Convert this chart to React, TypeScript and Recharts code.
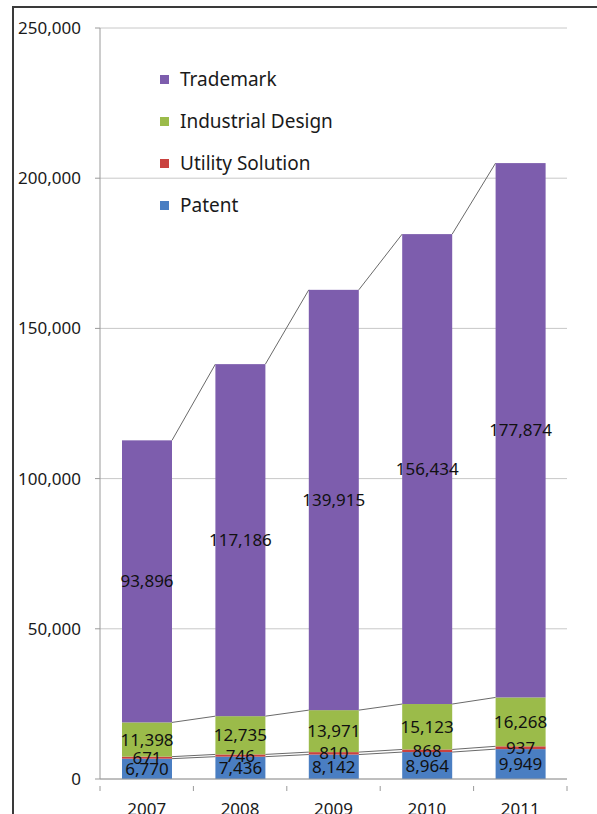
import React from 'react';
import { BarChart, Bar, XAxis, YAxis, CartesianGrid, LabelList } from 'recharts';

const years = ['2007', '2008', '2009', '2010', '2011'];
const patent = [6770, 7436, 8142, 8964, 9949];
const utility = [671, 746, 810, 868, 937];
const industrial = [11398, 12735, 13971, 15123, 16268];
const trademark = [93896, 117186, 139915, 156434, 177874];
const yTicks = [0, 50000, 100000, 150000, 200000, 250000];

const seriesDefs = [
  { key: 'patent', name: 'Patent', color: '#4A7EC2', values: patent },
  { key: 'utility', name: 'Utility Solution', color: '#C9423F', values: utility },
  { key: 'industrial', name: 'Industrial Design', color: '#9BBB4A', values: industrial },
  { key: 'trademark', name: 'Trademark', color: '#7D5DAD', values: trademark },
];

const data = years.map((y, i) => {
  const row: any = { year: y };
  seriesDefs.forEach((s) => (row[s.key] = s.values[i]));
  return row;
});

// cumulative tops of each series in each bar
const tops: Record<string, number[]> = {};
{
  const acc = years.map(() => 0);
  seriesDefs.forEach((s) => {
    tops[s.key] = s.values.map((v, i) => (acc[i] += v));
  });
}

const W = 597;
const H = 814;
const MARGIN = { top: 28, right: 30, left: 10, bottom: 5 };
const YAXIS_W = 90;
const PLOT_W = W - MARGIN.left - MARGIN.right - YAXIS_W;
const BAND = PLOT_W / years.length;
const FONT = '"Noto Sans", "Open Sans", sans-serif';

const fmt = (v: any) => Number(v).toLocaleString('en-US');

const makeShape = (key: string) => (props: any) => {
  const { x, y, width, height, fill, index } = props;
  const vals = seriesDefs.find((s) => s.key === key)!.values;
  const k = height / vals[index];
  const t = tops[key];
  const els: any[] = [
    <rect key="r" x={x} y={y} width={width} height={height} fill={fill} />,
  ];
  if (index < years.length - 1) {
    const yNext = y + (t[index] - t[index + 1]) * k;
    els.push(
      <line key="l" x1={x + width} y1={y} x2={x + BAND} y2={yNext} stroke="#6a6a6a" strokeWidth={1} />
    );
  }
  return <g>{els}</g>;
};

const XTick = (props: any) => {
  const { x, y, payload, index } = props;
  const axisY = y - 1;
  return (
    <g>
      <line x1={x - BAND / 2} y1={axisY} x2={x - BAND / 2} y2={axisY + 5} stroke="#9a9a9a" />
      {index === years.length - 1 && (
        <line x1={x + BAND / 2} y1={axisY} x2={x + BAND / 2} y2={axisY + 5} stroke="#9a9a9a" />
      )}
      <text x={x} y={axisY + 29} textAnchor="middle" fontSize={17} fill="#1a1a1a" fontFamily={FONT}>
        {payload.value}
      </text>
    </g>
  );
};

const LegendBox = () => {
  const items = [...seriesDefs].reverse();
  return (
    <div style={{ position: 'absolute', left: 160, top: 58, fontFamily: FONT }}>
      {items.map((s) => (
        <div key={s.key} style={{ display: 'flex', alignItems: 'center', height: 42, fontSize: 19, color: '#1a1a1a' }}>
          <span style={{ display: 'inline-block', width: 9, height: 9, background: s.color, marginRight: 11 }} />
          <span>{s.name}</span>
        </div>
      ))}
    </div>
  );
};

export default function App() {
  return (
    <div style={{ position: 'absolute', left: 0, top: 0, width: W, height: H, background: '#fff', overflow: 'hidden' }}>
      <div style={{ position: 'absolute', left: 12, top: 6, width: 600, height: 820, borderLeft: '2px solid #3a3a3a', borderTop: '2px solid #3a3a3a' }} />
      <div style={{ position: 'absolute', left: 0, top: 0 }}>
        <BarChart width={W} height={H} data={data} margin={MARGIN} barSize={50}>
          <CartesianGrid vertical={false} stroke="#c8c8c8" />
          <XAxis
            dataKey="year"
            tickLine={false}
            tick={<XTick />}
            stroke="#9a9a9a"
            height={30}
            interval={0}
          />
          <YAxis
            width={YAXIS_W}
            domain={[0, 250000]}
            ticks={yTicks}
            tickFormatter={fmt}
            tickSize={5}
            tickMargin={14}
            stroke="#9a9a9a"
            tick={{ fontSize: 17, fill: '#1a1a1a', fontFamily: FONT }}
            interval={0}
          />
          {seriesDefs.map((s) => (
            <Bar
              key={s.key}
              dataKey={s.key}
              name={s.name}
              stackId="a"
              fill={s.color}
              isAnimationActive={false}
              shape={makeShape(s.key)}
            >
              <LabelList
                dataKey={s.key}
                position="center"
                formatter={fmt}
                fill="#111"
                fontSize={17}
                fontFamily={FONT}
              />
            </Bar>
          ))}
        </BarChart>
      </div>
      <LegendBox />
    </div>
  );
}
